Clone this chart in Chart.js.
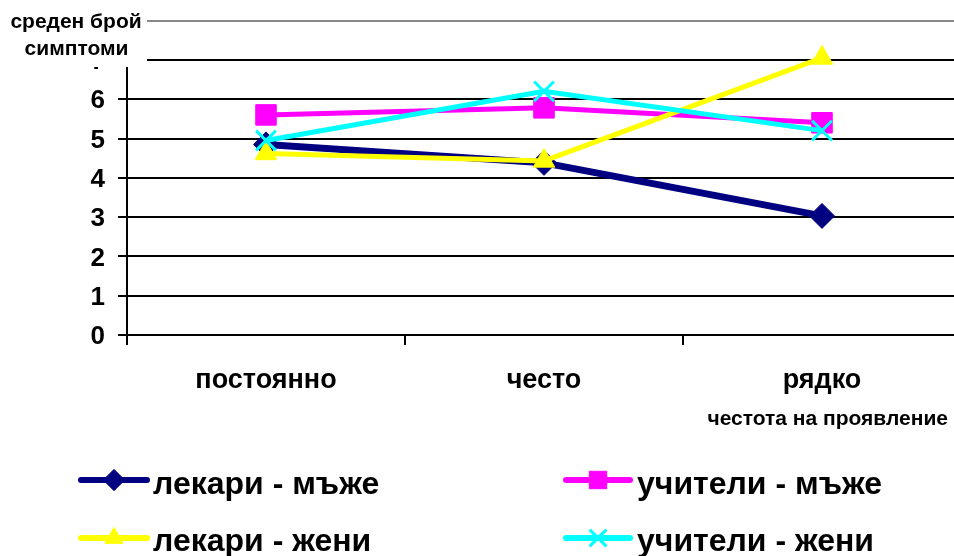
<!DOCTYPE html>
<html>
<head>
<meta charset="utf-8">
<script src="https://cdn.jsdelivr.net/npm/chart.js@4/dist/chart.umd.min.js"></script>
<style>
html,body{margin:0;padding:0;background:#fff;overflow:hidden;width:954px;height:556px;}
#wrap{position:absolute;left:0;top:0;width:978px;height:556px;}
</style>
</head>
<body>
<div id="wrap"><canvas id="c" width="978" height="556"></canvas></div>
<script>
const categories = ['постоянно', 'често', 'рядко'];
const seriesNames = ['лекари - мъже', 'учители - мъже', 'лекари - жени', 'учители - жени'];
const doctorsMen = [4.85, 4.38, 3.03];
const teachersMen = [5.6, 5.78, 5.4];
const doctorsWomen = [4.62, 4.43, 7.05];
const teachersWomen = [4.95, 6.2, 5.2];
const yTicks = [0, 1, 2, 3, 4, 5, 6, 7, 8];
const yTitle = ['среден брой', 'симптоми'];
const xTitle = 'честота на проявление';

const FONT = '"Liberation Sans", Arial, sans-serif';
const styles = [
  {color: '#000080', width: 7, point: 'rectRot', radius: 12.5},
  {color: '#FF00FF', width: 5, point: 'rect', radius: 14.5},
  {color: '#FFFF00', width: 5, point: 'triangle', radius: 12.5},
  {color: '#00FFFF', width: 5, point: 'crossRot', radius: 14}
];
const values = [doctorsMen, teachersMen, doctorsWomen, teachersWomen];

const datasets = values.map((v, i) => ({
  label: seriesNames[i],
  data: v,
  borderColor: styles[i].color,
  backgroundColor: styles[i].color,
  borderWidth: styles[i].width,
  pointStyle: styles[i].point,
  pointRadius: styles[i].radius,
  pointHoverRadius: styles[i].radius,
  pointBorderWidth: styles[i].point === 'crossRot' ? 3 : 1,
  pointBorderColor: styles[i].color,
  pointBackgroundColor: styles[i].color,
  tension: 0,
  order: 4 - i
}));

const overlay = {
  id: 'overlay',
  afterDraw(chart) {
    const ctx = chart.ctx;
    ctx.save();
    // y-axis title on a white box
    ctx.fillStyle = '#fff';
    ctx.fillRect(0, 0, 147, 67);
    ctx.fillStyle = '#000';
    ctx.font = 'bold 21px ' + FONT;
    ctx.textAlign = 'center';
    ctx.textBaseline = 'alphabetic';
    ctx.fillText(yTitle[0], 76, 28);
    ctx.fillText(yTitle[1], 76.5, 55);
    // x-axis title
    ctx.textAlign = 'right';
    ctx.fillText(xTitle, 948, 425);
    // legend
    const pos = [[81, 147, 480, 153, 494], [566, 630, 480, 637, 494], [81, 147, 538, 153, 551], [566, 630, 538, 637, 551]];
    ctx.font = 'bold 32px ' + FONT;
    ctx.textAlign = 'left';
    styles.forEach((s, i) => {
      const p = pos[i];
      ctx.strokeStyle = s.color;
      ctx.lineWidth = 6;
      ctx.lineCap = 'round';
      ctx.beginPath();
      ctx.moveTo(p[0], p[2]);
      ctx.lineTo(p[1], p[2]);
      ctx.stroke();
      ctx.lineCap = 'butt';
      ctx.fillStyle = s.color;
      ctx.lineWidth = s.point === 'crossRot' ? 3 : 1;
      Chart.helpers.drawPoint(ctx, {pointStyle: s.point, radius: s.radius * 0.85, rotation: 0, borderWidth: ctx.lineWidth}, (p[0] + p[1]) / 2, p[2]);
      ctx.fillStyle = '#000';
      ctx.fillText(seriesNames[i], p[3], p[4]);
    });
    ctx.restore();
  }
};

new Chart(document.getElementById('c'), {
  type: 'line',
  data: {labels: categories, datasets},
  options: {
    responsive: false,
    devicePixelRatio: 1,
    animation: false,
    events: [],
    layout: {padding: {left: 0, top: 20.6, right: 1, bottom: 0}},
    plugins: {legend: {display: false}, tooltip: {enabled: false}},
    scales: {
      x: {
        type: 'category',
        offset: true,
        afterFit(s) { s.height = 221; s.paddingLeft = 0; s.paddingRight = 0; },
        border: {color: '#000', width: 2},
        grid: {offset: true, drawOnChartArea: false, drawTicks: true, tickLength: 10, color: '#000', lineWidth: 2},
        ticks: {color: '#000', font: {family: FONT, size: 27, weight: 'bold'}, padding: 19, maxRotation: 0}
      },
      y: {
        min: 0,
        max: 8,
        afterFit(s) { s.width = 127; s.paddingTop = 0; s.paddingBottom = 0; },
        afterBuildTicks(s) { s.ticks = yTicks.map(v => ({value: v})); },
        border: {color: '#000', width: 2},
        grid: {color: ctx => ctx.tick && ctx.tick.value === 8 ? '#888' : '#000', lineWidth: 2, tickLength: 9, drawTicks: true},
        ticks: {color: '#000', font: {family: FONT, size: 26, weight: 'bold'}, padding: 13, stepSize: 1, labelOffset: 2}
      }
    }
  },
  plugins: [overlay]
});
</script>
</body>
</html>
